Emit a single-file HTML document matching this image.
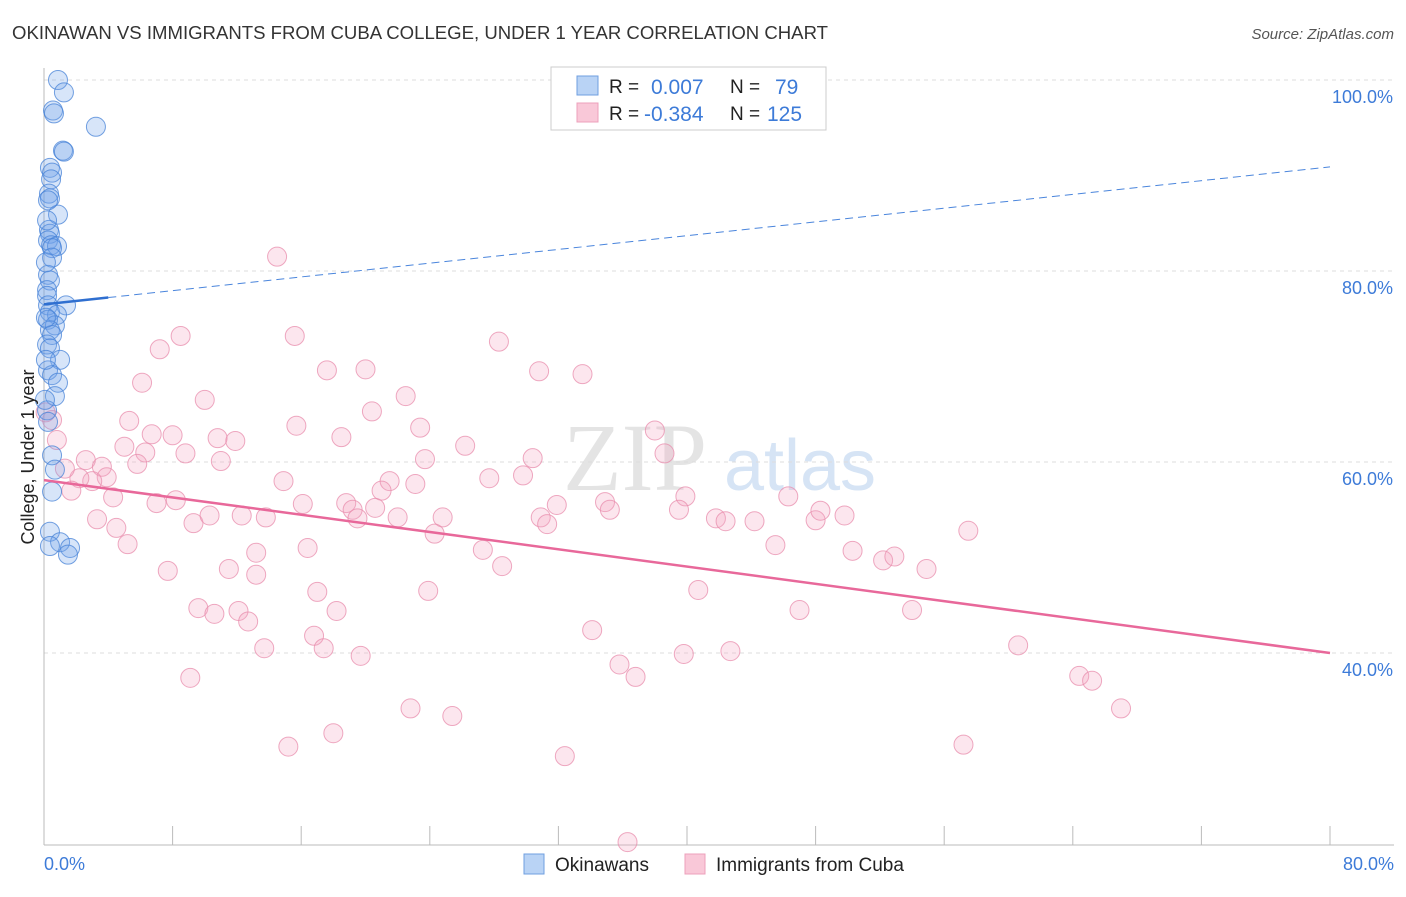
<!DOCTYPE html>
<html><head><meta charset="utf-8"><style>
body{margin:0;background:#fff;font-family:"Liberation Sans",sans-serif}
</style></head><body>
<svg id="c" width="1406" height="892" xmlns="http://www.w3.org/2000/svg">
<text x="12" y="39" font-size="18" fill="#333" textLength="816" lengthAdjust="spacingAndGlyphs">OKINAWAN VS IMMIGRANTS FROM CUBA COLLEGE, UNDER 1 YEAR CORRELATION CHART</text>
<text x="1394" y="39" font-size="15" fill="#555" text-anchor="end" font-style="italic">Source: ZipAtlas.com</text>
<text x="635" y="490" font-size="96" fill="#e4e4e4" font-family="Liberation Serif" text-anchor="middle">ZIP</text>
<text x="800" y="490" font-size="72" fill="#d6e4f5" text-anchor="middle">atlas</text>
<g id="grid"></g><g id="pts"></g><g id="trend"></g>
<text transform="translate(34,457) rotate(-90)" font-size="18" fill="#222" text-anchor="middle">College, Under 1 year</text>
<g>
<rect x="551" y="67" width="275" height="63" fill="#fff" stroke="#ccc"/>
<rect x="577" y="76" width="21" height="19" fill="#b9d3f5" stroke="#6f9fe0"/>
<rect x="577" y="103" width="21" height="19" fill="#f9c8d8" stroke="#eda0bb"/>
<text x="609" y="93" font-size="19" fill="#222">R =</text>
<text x="651" y="94" font-size="21" fill="#3d7bd8">0.007</text>
<text x="730" y="93" font-size="19" fill="#222">N =</text>
<text x="775" y="94" font-size="21" fill="#3d7bd8">79</text>
<text x="609" y="120" font-size="19" fill="#222">R =</text>
<text x="644" y="121" font-size="21" fill="#3d7bd8">-0.384</text>
<text x="730" y="120" font-size="19" fill="#222">N =</text>
<text x="767" y="121" font-size="21" fill="#3d7bd8">125</text>
</g>
<g>
<rect x="524" y="854" width="20" height="20" fill="#b9d3f5" stroke="#6f9fe0"/>
<text x="555" y="871" font-size="19" fill="#222">Okinawans</text>
<rect x="685" y="854" width="20" height="20" fill="#f9c8d8" stroke="#eda0bb"/>
<text x="716" y="871" font-size="19" fill="#222">Immigrants from Cuba</text>
</g>
</svg>
<script>
const yTicks=[100,80,60,40];
const xTickLabels=["0.0%","80.0%"];
const blueX=[0.87,1.24,0.56,0.62,3.23,1.18,1.24,0.37,0.5,0.44,0.31,0.37,0.87,0.31,0.37,0.25,0.44,0.81,0.5,0.5,0.25,0.37,0.19,0.19,1.37,0.25,0.37,0.81,0.25,0.68,0.37,0.5,0.19,0.37,1.0,0.25,0.5,0.87,0.68,0.19,0.25,0.5,0.68,0.5,0.37,1.0,1.62,1.49,0.37,0.06,0.12,0.12,0.12,0.19,0.25];
const blueY=[100,98.7,96.8,96.5,95.1,92.6,92.5,90.8,90.3,89.6,88.1,87.6,85.9,84.3,83.9,83.2,82.7,82.6,82.4,81.4,79.6,79.0,78.0,77.4,76.4,76.4,75.7,75.4,74.9,74.3,73.8,73.3,72.3,71.9,70.7,69.6,69.1,68.3,66.9,65.4,64.2,60.7,59.2,56.9,52.7,51.6,51.0,50.3,51.2,66.5,70.7,75.1,80.9,85.3,87.4];
const pinkX=[14.5,8.5,15.6,7.2,28.3,20.0,17.6,30.8,33.5,6.1,10.0,22.5,20.4,5.3,15.7,23.4,6.7,8.0,10.8,11.9,18.5,26.2,38.0,38.6,5.0,6.3,8.8,11.0,5.8,23.7,30.4,2.6,3.6,0.8,0.5,3.9,3.0,2.2,1.7,4.3,1.3,14.9,21.5,23.1,27.7,29.8,21.0,7.0,8.2,16.1,18.8,19.2,20.6,31.9,34.9,35.2,39.9,39.5,3.3,4.5,5.2,9.3,10.3,12.3,13.8,19.5,22.0,24.8,24.3,30.9,31.3,41.8,42.4,44.2,46.3,48.0,48.3,49.8,45.5,16.4,27.3,50.3,52.2,52.9,54.9,57.5,7.7,11.5,13.2,13.2,28.5,17.0,23.9,40.7,9.6,10.6,12.1,12.7,18.2,47.0,54.0,34.1,16.8,17.4,13.7,19.7,35.8,39.8,42.7,60.6,36.8,9.1,64.4,65.2,22.8,25.4,67.0,18.0,15.2,57.2,32.4,36.3,0.1];
const pinkY=[81.5,73.2,73.2,71.8,72.6,69.7,69.6,69.5,69.2,68.3,66.5,66.9,65.3,64.3,63.8,63.6,62.9,62.8,62.5,62.2,62.6,61.7,63.3,60.9,61.6,61.0,60.9,60.1,59.8,60.3,60.4,60.2,59.5,62.3,64.4,58.4,58.0,58.3,57.0,56.3,59.3,58.0,58.0,57.7,58.3,58.6,57.0,55.7,56.0,55.6,55.7,55.0,55.2,55.5,55.8,55.0,56.4,55.0,54.0,53.1,51.4,53.6,54.4,54.4,54.2,54.1,54.2,54.2,52.5,54.2,53.5,54.1,53.8,53.8,56.4,53.9,54.9,54.4,51.3,51.0,50.8,50.7,49.7,50.1,48.8,52.8,48.6,48.8,50.5,48.2,49.1,46.4,46.5,46.6,44.7,44.1,44.4,43.3,44.4,44.5,44.5,42.4,41.8,40.5,40.5,39.7,38.8,39.9,40.2,40.8,37.5,37.4,37.6,37.1,34.2,33.4,34.2,31.6,30.2,30.4,29.2,20.2,65.2];
const blueTrend=[76.5,90.9];
const pinkTrend=[58.1,40.0];
const NS="http://www.w3.org/2000/svg";
const X=v=>44+v*16.075, Y=v=>80+(100-v)*9.55;
function mk(t,a,p){const e=document.createElementNS(NS,t);for(const k in a)e.setAttribute(k,a[k]);p.appendChild(e);return e;}
const grid=document.getElementById('grid');
yTicks.forEach(t=>{
 const l=mk('line',{x1:44,x2:1394,y1:Y(t),y2:Y(t),stroke:'#ddd','stroke-dasharray':'4,4'},grid);
 
 
 const tx=mk('text',{x:1393,y:Y(t)+23,'font-size':18,fill:'#3d7bd8','text-anchor':'end'},grid);
 tx.textContent=t.toFixed(1)+'%';
 
 
});
const ax=mk('line',{x1:44,x2:44,y1:68,y2:845,stroke:'#bbb'},grid);


const bx=mk('line',{x1:44,x2:1394,y1:845,y2:845,stroke:'#bbb'},grid);


for(let i=1;i<=10;i++){const t=mk('line',{x1:X(i*8),x2:X(i*8),y1:826,y2:845,stroke:'#bbb'},grid);
 
 }
[[0,'start',44],[80,'end',1394]].forEach((d,i)=>{const t=mk('text',{x:d[2],y:870,'font-size':18,fill:'#3d7bd8','text-anchor':d[1]},grid);t.textContent=xTickLabels[i];
 
 });
const pts=document.getElementById('pts');
pinkX.forEach((x,i)=>{const c=mk('circle',{cx:X(x),cy:Y(pinkY[i]),r:9.5,fill:'rgba(245,165,195,0.28)',stroke:'rgba(232,140,172,0.75)','stroke-width':1},pts);
 
 });
blueX.forEach((x,i)=>{const c=mk('circle',{cx:X(x),cy:Y(blueY[i]),r:9.5,fill:'rgba(110,160,235,0.28)',stroke:'rgba(70,130,215,0.75)','stroke-width':1},pts);
 
 });
const tr=document.getElementById('trend');
const bAt=x=>blueTrend[0]+(blueTrend[1]-blueTrend[0])*x/80;
let l1=mk('line',{x1:X(0),y1:Y(bAt(0)),x2:X(4),y2:Y(bAt(4)),stroke:'#2f6fd0','stroke-width':2.5},tr);


let l2=mk('line',{x1:X(4),y1:Y(bAt(4)),x2:X(80),y2:Y(bAt(80)),stroke:'#4a85dc','stroke-width':1,'stroke-dasharray':'8,5'},tr);


let l3=mk('line',{x1:X(0),y1:Y(pinkTrend[0]),x2:X(80),y2:Y(pinkTrend[1]),stroke:'#e8689a','stroke-width':2.5},tr);


</script>
</body></html>
